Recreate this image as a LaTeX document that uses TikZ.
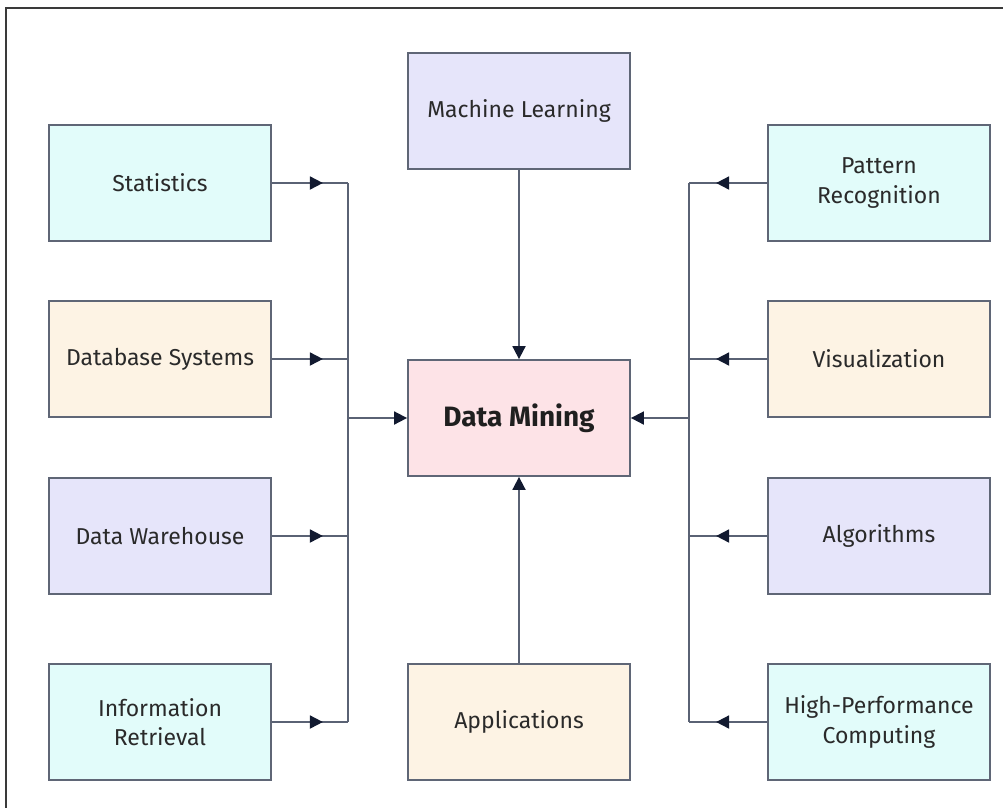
\documentclass[tikz,border=0pt]{standalone}
\usepackage{fontspec}
\setmainfont{Fira Sans}
\usetikzlibrary{arrows.meta,decorations.markings}

\definecolor{fillcyan}{HTML}{E2FCFA}
\definecolor{fillpeach}{HTML}{FDF3E4}
\definecolor{filllav}{HTML}{E6E5FA}
\definecolor{fillpink}{HTML}{FDE3E7}
\definecolor{edgegray}{HTML}{5F6676}
\definecolor{linegray}{HTML}{5A6274}
\definecolor{tipnavy}{HTML}{121A30}
\definecolor{textgray}{HTML}{2A2A2A}
\definecolor{framegray}{HTML}{3A3A3A}

\tikzset{
  box/.style={draw=edgegray, line width=1.8pt, minimum width=222pt, minimum height=116pt,
    inner sep=0pt, align=center, text=textgray, font=\fontsize{23}{29.5}\selectfont},
  cyanbox/.style={box, fill=fillcyan},
  peachbox/.style={box, fill=fillpeach},
  lavbox/.style={box, fill=filllav},
  conn/.style={draw=linegray, line width=1.8pt},
  tipend/.style={-{Triangle[length=13pt,width=13pt,color=tipnavy]}},
  midtip/.style={postaction={decorate},
    decoration={markings, mark=at position 51pt with {\arrow{Triangle[length=13pt,width=13pt,color=tipnavy]}}}},
}

\begin{document}
\begin{tikzpicture}[x=1pt,y=-1pt]
\useasboundingbox (0,0) rectangle (1003,807);
% outer frame (only its top and left sides fall on the page)
\draw[framegray, line width=1.8pt] (6,815) -- (6,8) -- (1010,8);

% left column
\node[cyanbox]  (stat) at (160,183) {Statistics};
\node[peachbox] (dbs)  at (160,359) {Database Systems};
\node[lavbox]   (dw)   at (160,536) {Data Warehouse};
\node[cyanbox]  (ir)   at (160,722) {Information\\Retrieval};

% middle column
\node[lavbox]   (ml)   at (519,111) {Machine Learning};
\node[box, fill=fillpink, font=\fontsize{28}{34}\selectfont\bfseries, text=black!88] (dm) at (519,418) {Data Mining};
\node[peachbox] (app)  at (519,722) {Applications};

% right column
\node[cyanbox]  (pr)   at (879,183) {Pattern\\Recognition};
\node[peachbox] (vis)  at (879,359) {Visualization};
\node[lavbox]   (alg)  at (879,536) {Algorithms};
\node[cyanbox]  (hpc)  at (879,722) {High-Performance\\Computing};

% collecting buses
\coordinate (busL) at (348,418);
\coordinate (busR) at (689,418);

\foreach \n in {stat,dbs,dw,ir}
  \draw[conn, midtip] (\n.east) -- (\n.east -| busL);
\draw[conn] (stat.east -| busL) -- (ir.east -| busL);
\draw[conn, tipend] (busL) -- (dm.west);

\foreach \n in {pr,vis,alg,hpc}
  \draw[conn, midtip] (\n.west) -- (\n.west -| busR);
\draw[conn] (pr.west -| busR) -- (hpc.west -| busR);
\draw[conn, tipend] (busR) -- (dm.east);

% vertical feeds
\draw[conn, tipend] (ml.south) -- (dm.north);
\draw[conn, tipend] (app.north) -- (dm.south);
\end{tikzpicture}
\end{document}
